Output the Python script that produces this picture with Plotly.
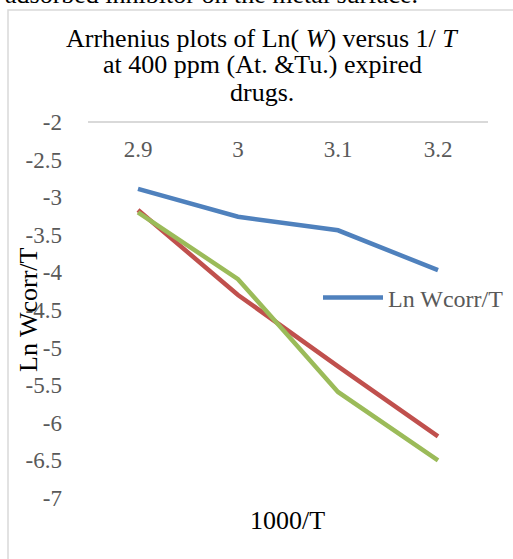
import plotly.graph_objects as go

categories = ["2.9", "3", "3.1", "3.2"]
blue_vals = [-2.89, -3.26, -3.44, -3.97]
red_vals = [-3.17, -4.30, -5.25, -6.18]
green_vals = [-3.20, -4.09, -5.59, -6.50]
y_ticks = [-2, -2.5, -3, -3.5, -4, -4.5, -5, -5.5, -6, -6.5, -7]
legend_name = "Ln Wcorr/T"

SERIF = "Liberation Serif"
GRAY = "#595959"

L, R, T, B = 88, 25, 122, 61
W, H = 513, 559
PW, PH = W - L - R, H - T - B


def px(x):
    return (x - L) / PW


def py(y):
    return (H - B - y) / PH


fig = go.Figure()
fig.add_trace(go.Scatter(x=categories, y=blue_vals, mode="lines", name=legend_name,
                         line=dict(color="#4f81bd", width=4.5), showlegend=True))
fig.add_trace(go.Scatter(x=categories, y=red_vals, mode="lines", name="red",
                         line=dict(color="#c0504d", width=4.5), showlegend=False))
fig.add_trace(go.Scatter(x=categories, y=green_vals, mode="lines", name="green",
                         line=dict(color="#9bbb59", width=4.5), showlegend=False))

fig.update_layout(
    width=W, height=H,
    margin=dict(l=L, r=R, t=T, b=B, autoexpand=False),
    paper_bgcolor="white", plot_bgcolor="white",
    font=dict(family=SERIF, color=GRAY, size=23),
    showlegend=True,
    legend=dict(xref="container", yref="container", x=318 / W, y=1 - 298 / H,
                xanchor="left", yanchor="middle",
                font=dict(family=SERIF, size=24, color=GRAY),
                bgcolor="rgba(0,0,0,0)", itemwidth=60),
    xaxis=dict(type="category", categoryorder="array", categoryarray=categories,
               range=[-0.5, 3.5], side="bottom", anchor="free", position=1,
               showline=True, linecolor="#d9d9d9", linewidth=1.5,
               showgrid=False, zeroline=False, ticks="", ticklabelstandoff=7,
               automargin=False,
               tickfont=dict(family=SERIF, size=23, color=GRAY)),
    yaxis=dict(range=[-7.0005, -1.9995], tickvals=y_ticks, ticktext=[f"{v:g}" for v in y_ticks],
               showgrid=False, zeroline=False, showline=False, ticks="",
               ticklabelstandoff=25, automargin=False,
               tickfont=dict(family=SERIF, size=23, color=GRAY)),
)

# chart area border (only the top and left edges visible in the crop)
fig.add_shape(type="rect", xref="paper", yref="paper",
              x0=px(8), x1=px(520), y0=py(570), y1=py(10),
              line=dict(color="#d9d9d9", width=1.5), layer="below")

title_lines = ["Arrhenius plots of Ln( <i>W</i>) versus 1/ <i>T</i>",
               "at 400 ppm (At. &amp;Tu.) expired",
               "drugs."]
for txt, yc in zip(title_lines, [38, 65, 92]):
    fig.add_annotation(text=txt, xref="paper", yref="paper", x=px(262), y=py(yc),
                       xanchor="center", yanchor="middle", showarrow=False,
                       font=dict(family=SERIF, size=26, color="black"))

fig.add_annotation(text="1000/T", xref="paper", yref="paper", x=px(287), y=py(520),
                   xanchor="center", yanchor="middle", showarrow=False,
                   font=dict(family=SERIF, size=26, color="black"))
fig.add_annotation(text="Ln Wcorr/T", xref="paper", yref="paper", x=px(28), y=py(310),
                   xanchor="center", yanchor="middle", showarrow=False, textangle=-90,
                   font=dict(family=SERIF, size=26, color="black"))
fig.add_annotation(text="adsorbed inhibitor on the metal surface.", xref="paper", yref="paper",
                   x=px(3), y=py(-5), xanchor="left", yanchor="middle", showarrow=False,
                   font=dict(family=SERIF, size=26, color="black"))

fig.write_html("out.html")
